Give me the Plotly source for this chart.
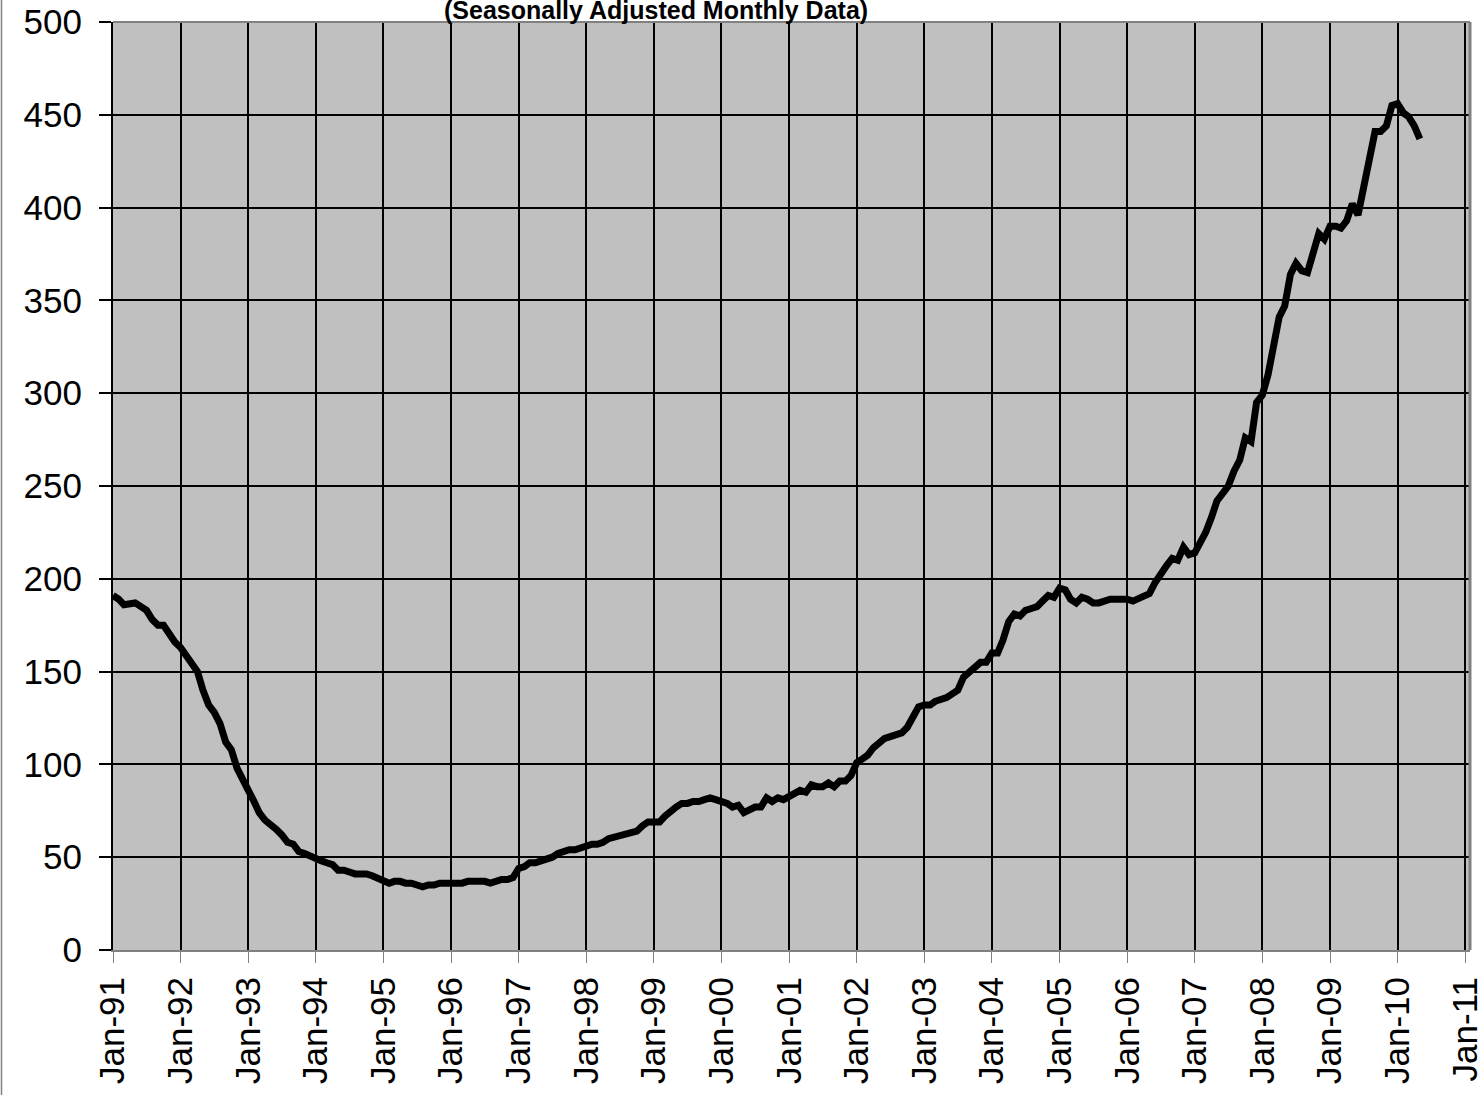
import pandas as pd
import plotly.graph_objects as go

# Monthly values, Jan-1991 .. May-2010 (seasonally adjusted)
v1991 = [191, 189, 186, 187, 187, 185, 183, 178, 175, 175, 170, 166]
v1992 = [163, 159, 155, 150, 140, 132, 128, 122, 112, 108, 98, 93]
v1993 = [86, 80, 74, 70, 68, 65, 62, 58, 57, 53, 52, 51]
v1994 = [49, 48, 47, 46, 43, 43, 42, 41, 41, 41, 40, 39]
v1995 = [38, 36, 37, 37, 36, 36, 35, 34, 35, 35, 36, 36]
v1996 = [36, 36, 36, 37, 37, 37, 37, 36, 37, 38, 38, 39]
v1997 = [44, 45, 47, 47, 48, 49, 50, 52, 53, 54, 54, 55]
v1998 = [56, 57, 57, 58, 60, 61, 61, 62, 63, 64, 67, 69]
v1999 = [69, 69, 72, 75, 77, 79, 79, 80, 80, 81, 82, 81]
v2000 = [80, 79, 77, 78, 74, 76, 77, 77, 82, 80, 82, 81]
v2001 = [83, 85, 86, 85, 89, 88, 88, 90, 88, 91, 91, 94]
v2002 = [101, 103, 105, 109, 112, 114, 115, 116, 117, 120, 126, 131]
v2003 = [132, 132, 134, 135, 136, 138, 140, 147, 150, 153, 155, 155]
v2004 = [160, 160, 167, 177, 181, 180, 183, 184, 185, 188, 191, 190]
v2005 = [195, 194, 189, 187, 190, 189, 187, 187, 188, 189, 189, 189]
v2006 = [189, 188, 189, 190, 192, 198, 203, 207, 211, 210, 217, 213]
v2007 = [214, 219, 225, 233, 242, 246, 250, 258, 264, 276, 274, 295]
v2008 = [299, 310, 326, 341, 347, 364, 370, 366, 365, 377, 386, 383]
v2009 = [390, 390, 389, 393, 402, 396, 410, 425, 441, 441, 444, 455]
v2010 = [456, 451, 449, 444, 437]

values = (v1991 + v1992 + v1993 + v1994 + v1995 + v1996 + v1997 + v1998 + v1999 +
          v2000 + v2001 + v2002 + v2003 + v2004 + v2005 + v2006 + v2007 + v2008 +
          v2009 + v2010)
dates = pd.date_range("1991-01-01", periods=len(values), freq="MS")

title_text = "(Seasonally Adjusted Monthly Data)"
y_ticks = [0, 50, 100, 150, 200, 250, 300, 350, 400, 450, 500]

FONT = "Liberation Sans, Arial, sans-serif"

W, H = 1480, 1095
ML, MT, MR, MB = 113, 22, 10, 145
PW = W - ML - MR
PH = H - MT - MB

fig = go.Figure()
fig.add_trace(go.Scatter(
    x=dates, y=values, mode="lines",
    line=dict(color="black", width=7), showlegend=False,
))

fig.update_layout(
    width=W, height=H,
    margin=dict(l=ML, r=MR, t=MT, b=MB, autoexpand=False),
    paper_bgcolor="white",
    plot_bgcolor="#C0C0C0",
    font=dict(family=FONT, size=34, color="black"),
    xaxis=dict(
        type="date",
        range=["1991-01-01", "2011-01-27"],
        tick0="1991-01-01", dtick="M12", tickformat="%b-%y",
        tickangle=-90,
        showgrid=True, gridcolor="black", gridwidth=2,
        ticks="outside", ticklen=11, tickcolor="#808080", tickwidth=1,
        showline=True, linecolor="#808080", linewidth=2,
        ticklabelstandoff=0, ticklabeloverflow="allow",
        zeroline=False, automargin=False,
        tickfont=dict(family=FONT, size=35, color="black"),
    ),
    yaxis=dict(
        range=[0, 500],
        tickvals=y_ticks,
        showgrid=True, gridcolor="black", gridwidth=2,
        ticks="outside", ticklen=12, tickcolor="black", tickwidth=2,
        showline=True, linecolor="black", linewidth=2,
        ticklabelstandoff=10, ticklabeloverflow="allow",
        zeroline=False, automargin=False,
        tickfont=dict(family=FONT, size=35, color="black"),
    ),
    annotations=[dict(
        text="<b>" + title_text + "</b>",
        xref="paper", yref="paper", x=(655.5 - ML) / PW, y=1 + (MT - 10) / PH,
        xanchor="center", yanchor="middle", showarrow=False,
        font=dict(family=FONT, size=25, color="black"),
    )],
    shapes=[
        # plot-area border (top and right)
        dict(type="line", xref="paper", yref="paper", x0=0, x1=1, y0=1, y1=1,
             line=dict(color="#808080", width=2)),
        dict(type="line", xref="paper", yref="paper", x0=1, x1=1, y0=0, y1=1,
             line=dict(color="#808080", width=3)),
        # chart-area border on the left edge
        dict(type="line", xref="paper", yref="paper",
             x0=(1.5 - ML) / PW, x1=(1.5 - ML) / PW,
             y0=-MB / PH, y1=1 + MT / PH,
             line=dict(color="#808080", width=1.5)),
    ],
)

fig.write_html(
    "out.html",
    config={"displayModeBar": False},
    post_script="document.body.style.margin='0';document.body.style.overflow='hidden';",
)
